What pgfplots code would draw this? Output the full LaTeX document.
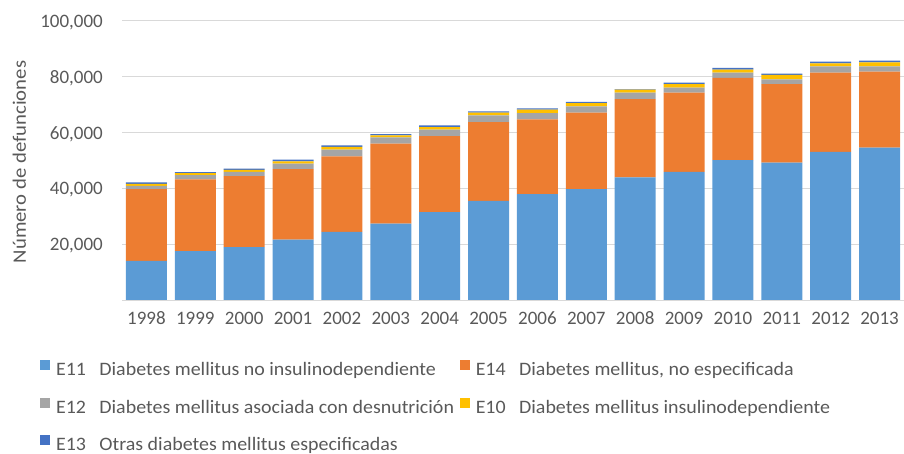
\documentclass[border=0pt]{standalone}
\usepackage{pgfplots}
\pgfplotsset{compat=1.18}
\usepackage{pgfplotstable}
\usepackage{fontspec}
\setmainfont{Carlito}
\definecolor{cE11}{HTML}{5B9BD5}
\definecolor{cE14}{HTML}{ED7D31}
\definecolor{cE12}{HTML}{A5A5A5}
\definecolor{cE10}{HTML}{FFC000}
\definecolor{cE13}{HTML}{4472C4}
\definecolor{txt}{HTML}{595959}
\definecolor{gridc}{HTML}{D9D9D9}
\pgfplotstableread{
x E11 E14 E12 E10 E13
0 14030 25700 1170 720 500
1 17490 25710 1530 720 350
2 18920 25460 1530 710 500
3 21630 25240 2040 820 610
4 24380 27130 2390 940 600
5 27350 28700 2250 710 470
6 31520 27240 2290 930 600
7 35560 28200 2390 970 460
8 37950 26770 2250 1220 460
9 39730 27390 2250 1170 500
10 43910 28060 2390 1070 150
11 45910 28450 1790 1180 600
12 50090 29520 1890 1070 610
13 49270 28060 1780 1570 470
14 53050 28450 2250 1070 610
15 54620 27240 1890 1430 610
}\datatable
\newcommand{\lt}[2]{\scalebox{1.05}[1]{\makebox[41.3bp][l]{#1}#2}}
\begin{document}
\fontsize{19bp}{22bp}\selectfont
\begin{tikzpicture}
\path[use as bounding box] (0,0) rectangle (904bp,454bp);
\begin{axis}[
  at={(122bp,154bp)}, anchor=south west,
  width=782bp, height=279bp, scale only axis,
  ybar stacked, bar width=0.84,
  xmin=-0.5, xmax=15.5, ymin=0, ymax=100000,
  scaled y ticks=false,
  xtick={0,...,15},
  xticklabels={1998,1999,2000,2001,2002,2003,2004,2005,2006,2007,2008,2009,2010,2011,2012,2013},
  ytick={0,20000,40000,60000,80000,100000},
  yticklabels={,{20,000},{40,000},{60,000},{80,000},{100,000}},
  ymajorgrids, grid style={draw=gridc, line width=1bp},
  axis line style={draw=none}, major tick length=0pt,
  tick label style={font=\fontsize{19bp}{22bp}\selectfont, text=txt, inner sep=0pt},
  yticklabel style={anchor=east, xshift=-19bp, text depth=0pt},
  xticklabel style={anchor=north, yshift=-11.7bp},
  ylabel={\scalebox{1.09}[1]{Número de defunciones}},
  ylabel style={at={(axis description cs:-0.1228,0.4946)}, anchor=base, font=\fontsize{19bp}{22bp}\selectfont, text=txt, inner sep=0pt},
  legend columns=2,
  legend cell align=left,
  legend image code/.code={\fill[#1] (0bp,1.1bp) rectangle (10bp,11.1bp);},
  legend style={at={(axis description cs:-0.1044,-0.215)}, anchor=north west,
    draw=none, fill=none, inner sep=0pt, outer sep=0pt,
    font=\fontsize{19bp}{22bp}\selectfont, text=txt, row sep=18bp,
    nodes={inner sep=0pt, text height=13bp, text depth=4bp},
    /tikz/every odd column/.append style={column sep=5.7bp}},
]
\addplot[fill=cE11, draw=none] table[x=x, y=E11] {\datatable};
\addlegendentry{\makebox[404bp][l]{\lt{E11}{Diabetes mellitus no insulinodependiente}}}
\addplot[fill=cE14, draw=none] table[x=x, y=E14] {\datatable};
\addlegendentry{\lt{E14}{Diabetes mellitus, no especificada}}
\addplot[fill=cE12, draw=none] table[x=x, y=E12] {\datatable};
\addlegendentry{\makebox[404bp][l]{\lt{E12}{Diabetes mellitus asociada con desnutrición}}}
\addplot[fill=cE10, draw=none] table[x=x, y=E10] {\datatable};
\addlegendentry{\lt{E10}{Diabetes mellitus insulinodependiente}}
\addplot[fill=cE13, draw=none] table[x=x, y=E13] {\datatable};
\addlegendentry{\makebox[404bp][l]{\lt{E13}{Otras diabetes mellitus especificadas}}}
\end{axis}
\end{tikzpicture}
\end{document}
